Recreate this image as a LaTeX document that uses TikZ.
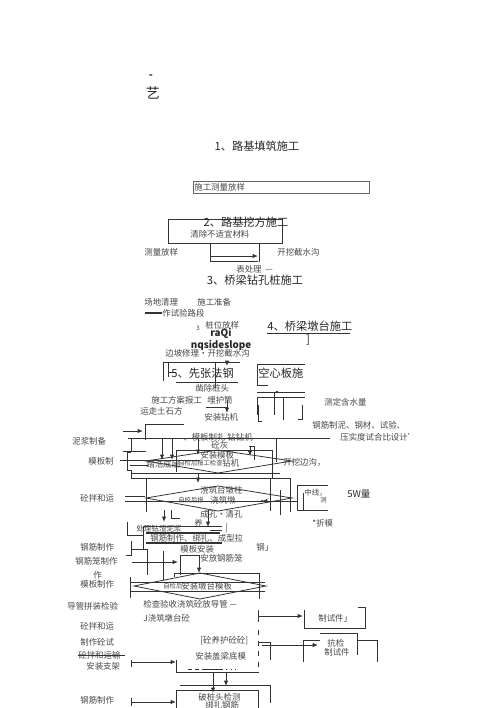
\documentclass[tikz,border=0pt]{standalone}
\usepackage{fontspec}
\setmainfont{Noto Sans CJK SC}
\usetikzlibrary{positioning, arrows.meta, shapes.geometric}
\definecolor{InkGray}{RGB}{70,70,70}

\begin{document}
\begin{tikzpicture}[x=0.02cm, y=-0.02cm,
    every node/.style={inner sep=0pt, text=InkGray},
    lbl/.style={font=\fontsize{4.8}{5.5}\selectfont, anchor=west},
    ttl/.style={font=\fontsize{6.4}{7.5}\selectfont, text=black!85},
    ln/.style={draw=black!80, line width=0.45pt},
    arr/.style={ln, -{Latex[length=3pt,width=2.4pt]}}]
  \useasboundingbox (0,0) rectangle (500,708);

  % Kopf
  \node[font=\fontsize{6}{7}\selectfont\bfseries, text=black!85] (dash) at (151,77) {-};
  \node[font=\fontsize{8}{9}\selectfont, text=black!85] (yi) at (153,93) {艺};

  % 1
  \node[ttl] (t1) at (257,146) {1、路基填筑施工};
  \draw[draw=black!60, line width=0.4pt] (193,181) rectangle (369,193);
  \node[lbl] (s1) at (194,187) {施工测量放样};

  % 2
  \draw[ln] (168,219) rectangle (282,243);
  \node[ttl] (t2) at (246,222) {2、路基挖方施工};
  \node[lbl] (s2) at (190,234) {清除不适宜材料};
  \draw[ln] (210,243) -- (210,262);
  \draw[ln] (259,243) -- (259,262);
  \draw[arr] (210,256) -- (258,256);
  \draw[ln] (210,261) -- (258,261);
  \node[lbl] (s3) at (144,252) {测量放样};
  \node[lbl] (s4) at (277,252) {开挖截水沟};
  \node[lbl] (s5) at (236,269) {表处理\ \ —};

  % 3
  \node[ttl] (t3) at (255,280) {3、桥梁钻孔桩施工};
  \node[lbl] (s6) at (144,302) {场地清理};
  \node[lbl] (s7) at (197,302) {施工准备};
  \draw[ln, line width=0.6pt] (145,313) -- (162,313);
  \node[lbl] (s8) at (162,313) {作试验路段};
  \node[lbl, font=\fontsize{3.5}{4}\selectfont] (s9a) at (196,328) {3};
  \node[lbl] (s9) at (205,325) {桩位放样};
  \node[font=\fontsize{5.6}{6.5}\selectfont\bfseries, text=black!85] (raq) at (221,333) {raQi};
  \node[font=\fontsize{5.6}{6.5}\selectfont\bfseries, text=black!85] (nqs) at (221,345) {nqsideslope};

  % 4
  \node[ttl, anchor=west] (t4) at (267,326) {4、桥梁墩台施工};
  \draw[ln] (267,333) -- (350,333);
  \node[ttl] (br) at (308,340) {]};
  \node[lbl] (s10) at (165,353) {边坡修理・开挖截水沟};

  % 5
  \draw[ln] (163,362) -- (240,362);
  \draw[ln] (163,362) -- (163,381);
  \draw[ln] (168,362) -- (168,377);
  \draw[ln] (168,372) -- (176,372);
  \draw[arr] (227,362) -- (227,366);
  \draw[ln] (215,362) -- (215,388);
  \node[ttl, anchor=west] (t5) at (171,373) {5、先张法钢};
  \draw[ln] (176,382) -- (238,382);
  \node[ttl, anchor=west] (t5b) at (258,373) {空心板施};
  \draw[ln] (257,364) -- (305,364);
  \draw[ln] (257,364) -- (257,385);
  \draw[ln] (257,385) -- (268,385);
  \draw[ln] (257,392) -- (305,392);
  \draw[ln] (257,397) -- (305,397);
  \fill[black!80] (277,392) circle (1.3);
  \draw[ln] (274,392) -- (274,415);
  \draw[ln] (283,397) -- (283,420);
  \draw[ln] (258,405) -- (258,421) -- (262,421);
  \draw[ln] (302,405) -- (302,419) -- (298,419);
  \draw[ln] (257,397) -- (257,415);

  \node[lbl] (s11) at (195,388) {凿除桩头};
  \node[lbl] (s12) at (151,400) {施工方案报工};
  \node[lbl] (s13) at (207,400) {埋护筒};
  \draw[ln] (206,407) -- (228,407);
  \draw[arr] (227,400) -- (227,413);
  \node[lbl] (s14) at (140,411) {运走土石方};
  \node[lbl] (s15) at (204,417) {安装钻机};
  \node[lbl] (s16) at (324,402) {测定含水量};
  \node[lbl] (s17) at (312,425) {钢筋制泥、钢材、试验、};
  \node[lbl] (s18) at (340,437) {压实度试合比设计'};

  % linke Spalte
  \node[lbl] (s19) at (72,441) {泥浆制备};
  \node[lbl] (s20) at (88,461) {模板制};
  \node[lbl] (s21) at (80,498) {砼拌和运};
  \node[lbl] (s22) at (80,547) {钢筋制作};
  \node[lbl] (s23) at (75,561) {钢筋笼制作};
  \node[lbl] (s24) at (93,575) {作};
  \node[lbl] (s25) at (80,584) {模板制作};
  \node[lbl] (s26) at (67,606) {导管拼装检验};
  \node[lbl] (s27) at (80,626) {砼拌和运};
  \node[lbl] (s28) at (80,642) {制作砼试};
  \node[lbl] (s29) at (78,655) {砼拌和运输};
  \draw[ln] (78,655) -- (125,655);
  \node[lbl] (s30) at (86,666) {安装支架};
  \node[lbl] (s31) at (80,700) {钢筋制作};

  % Rahmen links
  \draw[arr] (123,431) -- (143,431);
  \draw[ln] (145,424) -- (184,424);
  \draw[ln] (145,424) -- (145,440);
  \draw[ln] (128,438) -- (330,438);
  \draw[ln] (131,438) -- (131,452);
  \draw[ln] (131,452) -- (127,452);
  \draw[ln] (127,452) -- (127,470);
  \draw[ln] (127,470) -- (131,470) -- (131,478);
  \draw[ln] (131,478) -- (290,478);
  \draw[ln] (123,451) -- (146,451);
  \draw[arr] (162,438) -- (162,460);
  \draw[arr] (172,438) -- (172,460);
  \draw[ln] (120,460) -- (200,460);
  \draw[ln] (130,465) -- (148,465);
  \draw[arr] (198,438) -- (198,455);
  \node[lbl] (s32) at (183,437) {、模板制扎 钻钻机};
  \node[lbl] (s33) at (211,445) {砼灰};
  \draw[ln] (176,450) -- (272,450);
  \draw[ln] (176,450) -- (176,472);
  \draw[ln] (272,450) -- (272,478);
  \draw[ln] (249,446) -- (254,446) -- (254,460);
  \draw[arr] (250,446) -- (250,456);
  \draw[ln] (276,438) -- (276,462);

  % Raute 1
  \draw[ln] (146,461) -- (218,450) -- (292,461) -- (218,473) -- cycle;
  \node[lbl] (s34) at (200,455) {安装模板};
  \node[lbl, font=\fontsize{3.6}{4}\selectfont] (s35) at (178,463) {自检后报工检查};
  \node[lbl] (s36) at (222,463) {钻机};
  \node[lbl] (s37) at (146,464) {踏浩成层};
  \node[lbl] (s38) at (283,462) {开挖边沟，};
  \draw[arr] (198,473) -- (198,483);
  \draw[ln] (131,473) -- (280,473);

  % Raute 2
  \draw[ln] (146,478) -- (146,512);
  \draw[ln] (290,478) -- (290,512);
  \draw[ln] (125,496) -- (145,496);
  \draw[ln] (125,501) -- (290,501);
  \draw[ln] (146,498) -- (218,486) -- (292,498) -- (218,511) -- cycle;
  \node[lbl] (s39) at (200,490) {浇筑台墩柱};
  \node[lbl, font=\fontsize{3.6}{4}\selectfont] (s40) at (178,500) {自校后报};
  \node[lbl] (s41) at (210,500) {浇筑墩};
  \draw[arr] (297,501) -- (262,501);
  \fill[black!80] (262,501) circle (1.1);
  \draw[ln] (297,485) -- (297,510);
  \draw[ln] (297,485) -- (328,485);
  \draw[ln] (297,510) -- (328,510);
  \draw[ln] (303,493) -- (303,510);
  \node[lbl, font=\fontsize{4.3}{5}\selectfont] (s42) at (304,493) {中线，};
  \node[lbl, font=\fontsize{3.6}{4}\selectfont] (s43) at (320,500) {测};
  \node[ttl, anchor=west, font=\fontsize{5.4}{6}\selectfont] (s44) at (347,494) {5W量};
  \draw[ln] (270,478) -- (270,511);
  \draw[ln] (280,490) -- (280,515);
  \draw[arr] (164,510) -- (164,522);
  \draw[ln] (171,510) -- (171,518);
  \draw[ln] (171,518) -- (180,518);
  \node[lbl] (s45) at (200,514) {成孔・清孔};
  \draw[arr] (208,510) -- (208,527);
  \node[lbl] (s46) at (312,523) {*折模};

  % Bewehrung
  \node[lbl] (s47) at (194,523) {养};
  \draw[ln] (210,530) -- (222,530);
  \node[lbl] (s48) at (225,528) {|};
  \draw[ln] (127,522) -- (127,535) -- (143,535);
  \draw[ln] (143,526) -- (222,526);
  \draw[ln] (143,526) -- (143,550);
  \draw[ln, line width=0.9pt] (146,533) -- (220,533);
  \draw[ln, line width=0.9pt] (146,543) -- (222,543);
  \node[lbl, font=\fontsize{4.3}{5}\selectfont] (s49) at (136,529) {处理钻渣泥浆};
  \node[lbl] (s50) at (150,538.5) {钢筋制作、绑扎、成型拉};
  \node[lbl] (s51) at (256,547) {钢」};
  \node[lbl] (s52) at (180,549) {模板安装};
  \node[lbl] (s53) at (200,558) {安放钢筋笼};
  \draw[ln] (131,541) -- (131,555) -- (126,555);
  \draw[ln] (131,549) -- (147,549);
  \draw[ln] (147,549) -- (147,575);
  \draw[arr] (132,562) -- (178,562);
  \draw[ln] (180,555) -- (200,555);
  \draw[ln] (180,555) -- (180,575);
  \draw[ln] (163,551) -- (163,580);
  \draw[arr] (199,555) -- (199,573);

  % Raute 3
  \draw[ln] (134,586) -- (200,573) -- (266,586) -- (200,599) -- cycle;
  \draw[ln] (174,573) -- (260,573);
  \draw[ln] (174,573) -- (174,577);
  \draw[ln] (259,573) -- (259,599);
  \draw[ln] (130,577) -- (130,598);
  \draw[ln] (130,582) -- (265,582);
  \draw[ln] (130,591) -- (265,591);
  \node[lbl, font=\fontsize{3.6}{4}\selectfont] (s54) at (163,586) {自检后};
  \node[lbl] (s55) at (181,586) {安装墩台模板};

  \node[lbl] (s56) at (143,604) {检查验收浇筑砼放导管\ —};
  \node[lbl] (s57) at (143,618) {J浇筑墩台砼};
  \draw[ln] (258,610) -- (258,622);
  \draw[arr] (258,616) -- (303,616);
  \draw[ln] (304,610) -- (304,628) -- (365,628) -- (365,607) -- (358,607);
  \node[lbl] (s58) at (318,618) {制试件」};

  % untere Zeilen
  \node[lbl] (s59) at (200,641) {[砼养护砼砼]};
  \draw[ln, dashed] (258,630) -- (258,673);
  \draw[ln] (258,642) -- (270,642) -- (270,660);
  \draw[arr] (262,645) -- (318,645);
  \draw[ln] (303,640) -- (303,662);
  \draw[ln] (303,640) -- (320,640);
  \draw[ln] (320,633) -- (357,633) -- (357,655);
  \draw[ln] (357,640) -- (377,640) -- (377,662);
  \node[lbl] (s60) at (327,643) {抗检};
  \node[lbl] (s61) at (324,652) {制试件};
  \node[lbl] (s62) at (195,656) {安装盖梁底模};
  \draw[ln] (131,660) -- (131,667);
  \draw[arr] (131,662) -- (176,662);
  \draw[ln] (176,660) -- (176,672) -- (258,672);
  \draw[ln, dash pattern=on 2pt off 2pt] (188,669) -- (206,669);
  \draw[ln] (206,669) -- (222,669);
  \draw[ln, dotted] (222,669) -- (238,669);
  \draw[arr] (213,672) -- (213,693);
  \draw[arr] (226,672) -- (226,686);

  \draw[ln] (180,685) -- (270,685) -- (270,703);
  \draw[ln] (176,690) -- (176,708);
  \draw[ln] (176,690) -- (258,690) -- (258,708);
  \node[lbl] (s63) at (198,697) {破桩头检测};
  \node[lbl] (s64) at (205,705) {绑扎钢筋};
  \draw[arr] (131,702) -- (176,702);
  \draw[ln] (131,698) -- (131,706);
\end{tikzpicture}
\end{document}
